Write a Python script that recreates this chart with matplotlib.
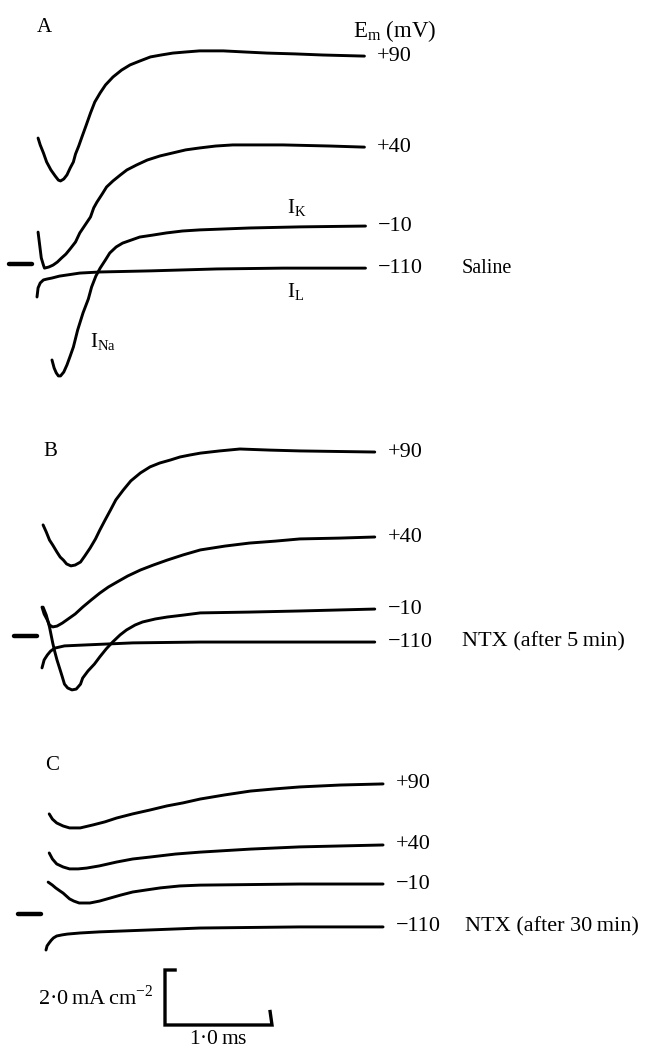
import matplotlib
matplotlib.use("Agg")
import matplotlib.pyplot as plt

plt.rcParams['font.family'] = ['Liberation Serif', 'DejaVu Serif']
plt.rcParams['mathtext.fontset'] = 'custom'
plt.rcParams['mathtext.rm'] = 'Liberation Serif'

# ---------------- data: time (ms) after step onset, current (mA cm^-2) ----------
# Panel A : Saline
tA_p90 = [0.01, 0.03, 0.06, 0.09, 0.13, 0.17, 0.20, 0.22, 0.25, 0.28, 0.31, 0.34, 0.36, 0.39, 0.42, 0.46,
          0.50, 0.54, 0.59, 0.64, 0.71, 0.79, 0.87, 0.96, 1.06, 1.16, 1.27, 1.39, 1.52, 1.74, 1.94, 2.15,
          2.41, 2.67, 3.06]
iA_p90 = [4.58, 4.33, 4.04, 3.71, 3.42, 3.20, 3.05, 3.02, 3.09, 3.24, 3.49, 3.71, 4.00, 4.29, 4.62, 5.05,
          5.49, 5.89, 6.22, 6.51, 6.80, 7.05, 7.24, 7.38, 7.53, 7.60, 7.67, 7.71, 7.75, 7.75, 7.71, 7.67,
          7.64, 7.60, 7.56]
tA_p40 = [0.01, 0.04, 0.06, 0.07, 0.11, 0.15, 0.19, 0.23, 0.27, 0.31, 0.36, 0.40, 0.45, 0.50, 0.53, 0.56,
          0.61, 0.65, 0.71, 0.78, 0.84, 0.93, 1.03, 1.15, 1.27, 1.39, 1.52, 1.67, 1.83, 2.30, 2.74, 3.06]
iA_p40 = [1.16, 0.22, -0.04, -0.15, -0.11, -0.04, 0.07, 0.22, 0.36, 0.55, 0.80, 1.13, 1.42, 1.71, 2.04, 2.25,
          2.55, 2.80, 3.02, 3.24, 3.42, 3.60, 3.78, 3.93, 4.04, 4.15, 4.22, 4.29, 4.33, 4.33, 4.29, 4.25]
tA_m10 = [0.14, 0.16, 0.18, 0.20, 0.22, 0.25, 0.28, 0.31, 0.34, 0.38, 0.43, 0.48, 0.51, 0.55, 0.59, 0.64,
          0.68, 0.74, 0.80, 0.88, 0.96, 1.08, 1.21, 1.36, 1.52, 1.99, 2.46, 3.07]
iA_m10 = [-3.49, -3.78, -3.96, -4.07, -4.07, -3.93, -3.67, -3.35, -3.02, -2.40, -1.78, -1.27, -0.84, -0.44,
          -0.15, 0.15, 0.40, 0.62, 0.76, 0.87, 0.98, 1.05, 1.13, 1.20, 1.24, 1.31, 1.35, 1.38]
tA_m110 = [0.00, 0.01, 0.03, 0.06, 0.09, 0.14, 0.21, 0.28, 0.40, 0.59, 1.06, 1.68, 2.30, 3.07]
iA_m110 = [-1.20, -0.87, -0.69, -0.58, -0.55, -0.51, -0.44, -0.40, -0.33, -0.29, -0.25, -0.18, -0.15, -0.15]

# Panel B : NTX (after 5 min)
tB_p90 = [0.01, 0.04, 0.07, 0.10, 0.14, 0.17, 0.20, 0.23, 0.27, 0.31, 0.36, 0.40, 0.45, 0.50, 0.54, 0.59,
          0.64, 0.69, 0.76, 0.83, 0.92, 1.01, 1.10, 1.20, 1.29, 1.38, 1.48, 1.66, 1.85, 2.13, 2.41, 3.11]
iB_p90 = [4.04, 3.78, 3.49, 3.31, 3.05, 2.87, 2.76, 2.62, 2.55, 2.58, 2.69, 2.91, 3.20, 3.53, 3.85, 4.22,
          4.58, 4.95, 5.31, 5.64, 5.93, 6.15, 6.29, 6.40, 6.51, 6.58, 6.65, 6.73, 6.80, 6.76, 6.73, 6.69]
tB_p40 = [0.00, 0.02, 0.05, 0.07, 0.10, 0.14, 0.19, 0.23, 0.31, 0.38, 0.46, 0.54, 0.62, 0.70, 0.80, 0.92,
          1.04, 1.17, 1.32, 1.48, 1.71, 1.94, 2.18, 2.41, 2.78, 3.11]
iB_p40 = [1.05, 0.80, 0.58, 0.40, 0.33, 0.36, 0.47, 0.58, 0.80, 1.05, 1.31, 1.56, 1.78, 1.96, 2.18, 2.40,
          2.58, 2.76, 2.95, 3.13, 3.27, 3.38, 3.45, 3.53, 3.56, 3.60]
tB_m10 = [0.01, 0.04, 0.07, 0.10, 0.12, 0.14, 0.17, 0.19, 0.21, 0.24, 0.28, 0.32, 0.36, 0.38, 0.43, 0.49,
          0.54, 0.60, 0.66, 0.73, 0.79, 0.87, 0.94, 1.06, 1.17, 1.32, 1.48, 1.94, 2.41, 3.11]
iB_m10 = [1.05, 0.76, 0.33, -0.25, -0.58, -0.87, -1.24, -1.49, -1.75, -1.89, -1.96, -1.93, -1.75, -1.53,
          -1.27, -1.02, -0.76, -0.47, -0.22, 0.04, 0.22, 0.40, 0.51, 0.62, 0.69, 0.76, 0.84, 0.87, 0.91, 0.98]
tB_m110 = [0.00, 0.02, 0.05, 0.08, 0.12, 0.21, 0.38, 0.85, 1.48, 3.11]
iB_m110 = [-1.16, -0.87, -0.69, -0.55, -0.44, -0.36, -0.33, -0.25, -0.22, -0.22]

# Panel C : NTX (after 30 min)
tC_p90 = [0.03, 0.06, 0.10, 0.16, 0.22, 0.32, 0.44, 0.55, 0.66, 0.81, 0.97, 1.13, 1.28, 1.44, 1.67, 1.91,
          2.14, 2.37, 2.75, 3.15]
iC_p90 = [3.64, 3.45, 3.31, 3.20, 3.13, 3.13, 3.24, 3.35, 3.49, 3.64, 3.78, 3.93, 4.04, 4.18, 4.33, 4.47,
          4.55, 4.62, 4.69, 4.73]
tC_p40 = [0.03, 0.06, 0.10, 0.16, 0.22, 0.30, 0.38, 0.50, 0.66, 0.81, 0.97, 1.21, 1.44, 1.91, 2.37, 3.15]
iC_p40 = [2.22, 2.00, 1.82, 1.71, 1.64, 1.64, 1.67, 1.75, 1.89, 2.00, 2.07, 2.18, 2.25, 2.36, 2.44, 2.51]
tC_m10 = [0.02, 0.06, 0.09, 0.13, 0.16, 0.20, 0.22, 0.26, 0.31, 0.36, 0.41, 0.50, 0.60, 0.70, 0.81, 0.93,
          1.07, 1.25, 1.44, 2.37, 3.15]
iC_m10 = [1.16, 1.05, 0.95, 0.84, 0.76, 0.62, 0.55, 0.47, 0.40, 0.40, 0.40, 0.47, 0.58, 0.69, 0.80, 0.87,
          0.95, 1.02, 1.05, 1.09, 1.09]
tC_m110 = [0.00, 0.01, 0.03, 0.05, 0.07, 0.10, 0.15, 0.20, 0.32, 0.50, 0.97, 1.44, 2.37, 3.15]
iC_m110 = [-1.31, -1.16, -1.05, -0.95, -0.87, -0.80, -0.76, -0.73, -0.69, -0.65, -0.58, -0.51, -0.47, -0.47]

voltage_labels = ['+90', '+40', '\u221210', '\u2212110']
conditions = ['Saline', 'NTX (after 5\u2009min)', 'NTX (after 30\u2009min)']
panel_letters = ['A', 'B', 'C']
scale_current = 2.0   # mA cm^-2
scale_time = 1.0      # ms

# ---------------- layout (pixels) ----------------
W, H = 646, 1052
SX = 107.0   # px per ms
SY = 27.5    # px per mA cm^-2
fig = plt.figure(figsize=(W / 100, H / 100), dpi=100)
fig.patch.set_facecolor('white')

def make_axes(x0, y0, top, bottom):
    ax = fig.add_axes([0, 1 - bottom / H, 1, (bottom - top) / H])
    ax.set_xlim(-x0 / SX, (W - x0) / SX)
    ax.set_ylim((y0 - bottom) / SY, (y0 - top) / SY)
    ax.axis('off')
    return ax

def ftext(x, y, s, **kw):
    kw.setdefault('fontsize', 16)
    kw.setdefault('va', 'center')
    fig.text(x / W, 1 - y / H, s, **kw)

panels = [
    dict(x0=37, y0=264, top=0, bottom=400,
         traces=[(tA_p90, iA_p90), (tA_p40, iA_p40), (tA_m10, iA_m10), (tA_m110, iA_m110)],
         letter=(44, 27), cond=(462, 268), cond_size=14.5),
    dict(x0=42, y0=636, top=400, bottom=740,
         traces=[(tB_p90, iB_p90), (tB_p40, iB_p40), (tB_m10, iB_m10), (tB_m110, iB_m110)],
         letter=(50, 451), cond=(462, 642), cond_size=16),
    dict(x0=46, y0=914, top=740, bottom=1052,
         traces=[(tC_p90, iC_p90), (tC_p40, iC_p40), (tC_m10, iC_m10), (tC_m110, iC_m110)],
         letter=(52, 766), cond=(465, 927), cond_size=16),
]

axes = []
for k, p in enumerate(panels):
    ax = make_axes(p['x0'], p['y0'], p['top'], p['bottom'])
    axes.append(ax)
    for (t, i), lab in zip(p['traces'], voltage_labels):
        ax.plot(t, i, color='black', lw=2.1, solid_capstyle='round', solid_joinstyle='round')
        ax.text(t[-1] + 0.12, i[-1], lab, fontsize=16, va='center', ha='left')
    # zero-current marker
    ax.plot([-0.26, -0.05], [0, 0], color='black', lw=3.2, solid_capstyle='round')
    ftext(*p['letter'], panel_letters[k], ha='center', fontsize=15)
    ftext(*p['cond'], conditions[k], ha='left', fontsize=p['cond_size'])

# header and current labels in panel A
ftext(353, 31, r'$\mathregular{E_m}$ (mV)', ha='left', fontsize=16.5)
ftext(287, 207, r'$\mathregular{I_K}$', ha='left', fontsize=15)
ftext(287, 291, r'$\mathregular{I_L}$', ha='left', fontsize=15)
ftext(90, 341, r'$\mathregular{I_{Na}}$', ha='left', fontsize=15)

# scale bar (in panel C data units)
axc = axes[2]
sb_t0 = (165 - 46) / SX
sb_i0 = (914 - 1025) / SY
axc.plot([sb_t0 + 0.11, sb_t0, sb_t0, sb_t0 + scale_time, sb_t0 + scale_time - 0.02],
         [sb_i0 + scale_current, sb_i0 + scale_current, sb_i0, sb_i0, sb_i0 + 0.55],
         color='black', lw=2.4, solid_joinstyle='miter', solid_capstyle='butt')
ftext(153, 997, r'2·0$\,$mA$\,$cm$^{\mathregular{-2}}$', ha='right', fontsize=16)
ftext(218, 1039, r'1·0$\,$ms', ha='center', fontsize=15.5)

fig.savefig('out.png', dpi=100, facecolor='white')
